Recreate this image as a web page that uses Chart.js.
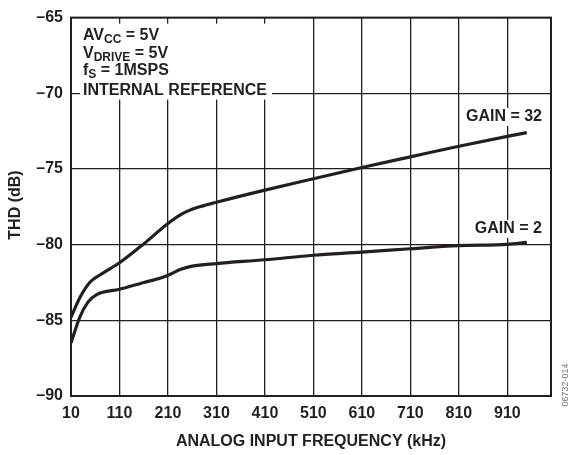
<!DOCTYPE html>
<html>
<head>
<meta charset="utf-8">
<script src="https://cdn.jsdelivr.net/npm/chart.js@4/dist/chart.umd.min.js"></script>
<style>
  html, body { margin: 0; padding: 0; background: #fff; }
  #thdChart { display: block; }
</style>
</head>
<body>
<canvas id="thdChart" width="572" height="455"></canvas>
<script>
// frequency (kHz) and THD (dB)
var freqGain32 = [10, 30, 50, 75, 110, 160, 210, 240, 270, 310, 410, 510, 610, 710, 810, 910, 950];
var thdGain32 = [-84.8, -83.4, -82.45, -81.9, -81.2, -79.95, -78.6, -77.95, -77.55, -77.2, -76.4, -75.65, -74.9, -74.2, -73.5, -72.85, -72.6];
var freqGain2 = [10, 28, 45, 63, 110, 160, 195, 215, 235, 260, 310, 410, 510, 610, 710, 810, 910, 950];
var thdGain2 = [-86.5, -84.8, -83.8, -83.3, -82.95, -82.5, -82.2, -81.95, -81.65, -81.42, -81.25, -81.0, -80.7, -80.5, -80.27, -80.07, -79.98, -79.85];
var xTicks = [10, 110, 210, 310, 410, 510, 610, 710, 810, 910];
var yTicks = [-90, -85, -80, -75, -70, -65];

var FONT = "'Liberation Sans', Arial, sans-serif";
var INK = "#231f20";

function toPoints(xs, ys) {
    var pts = [];
    for (var i = 0; i < xs.length; i++) {
        pts.push({ x: xs[i], y: ys[i] });
    }
    return pts;
}

// draws text with a subscript part, returns new x
function subText(ctx, x, y, main, sub) {
    ctx.font = "bold 16px " + FONT;
    ctx.fillText(main, x, y);
    x += ctx.measureText(main).width;
    if (sub) {
        ctx.font = "bold 12px " + FONT;
        ctx.fillText(sub, x, y + 4);
        x += ctx.measureText(sub).width;
    }
    return x;
}

var annotations = {
    id: "annotations",
    afterDatasetsDraw: function (chart) {
        var ctx = chart.ctx;
        var a = chart.chartArea;
        ctx.save();

        // frame
        ctx.strokeStyle = INK;
        ctx.lineWidth = 2;
        ctx.strokeRect(a.left, a.top, a.right - a.left, a.bottom - a.top);

        ctx.fillStyle = INK;
        ctx.textBaseline = "middle";
        ctx.textAlign = "left";

        // conditions box
        ctx.fillStyle = "#fff";
        ctx.fillRect(a.left + 9, a.top + 6, 192, 76);
        ctx.fillStyle = INK;
        var x0 = a.left + 12;
        var x = subText(ctx, x0, a.top + 18, "AV", "CC");
        subText(ctx, x, a.top + 18, " = 5V");
        x = subText(ctx, x0, a.top + 36, "V", "DRIVE");
        subText(ctx, x, a.top + 36, " = 5V");
        x = subText(ctx, x0, a.top + 53, "f", "S");
        subText(ctx, x, a.top + 53, " = 1MSPS");
        subText(ctx, x0, a.top + 73, "INTERNAL REFERENCE");

        // curve labels
        ctx.font = "bold 16px " + FONT;
        ctx.textAlign = "right";
        var labels = [["GAIN = 32", 117], ["GAIN = 2", 229]];
        for (var i = 0; i < labels.length; i++) {
            var w = ctx.measureText(labels[i][0]).width;
            ctx.fillStyle = "#fff";
            ctx.fillRect(542 - w - 3, labels[i][1] - 9, w + 6, 18);
            ctx.fillStyle = INK;
            ctx.fillText(labels[i][0], 542, labels[i][1]);
        }

        // y axis title
        ctx.save();
        ctx.translate(16, 205);
        ctx.rotate(-Math.PI / 2);
        ctx.textAlign = "center";
        ctx.font = "bold 16px " + FONT;
        ctx.fillText("THD (dB)", 0, 0);
        ctx.restore();

        // figure number
        ctx.translate(566, 385);
        ctx.rotate(-Math.PI / 2);
        ctx.font = "9px " + FONT;
        ctx.fillStyle = "#777";
        ctx.textAlign = "center";
        ctx.fillText("06732-014", 0, 0);
        ctx.restore();
    }
};

var ctx = document.getElementById("thdChart").getContext("2d");
var chart = new Chart(ctx, {
    type: "line",
    data: {
        datasets: [{
            label: "GAIN = 32",
            data: toPoints(freqGain32, thdGain32),
            borderColor: INK,
            borderWidth: 3.2,
            pointRadius: 0,
            cubicInterpolationMode: "monotone",
            fill: false
        }, {
            label: "GAIN = 2",
            data: toPoints(freqGain2, thdGain2),
            borderColor: INK,
            borderWidth: 3.2,
            pointRadius: 0,
            cubicInterpolationMode: "monotone",
            fill: false
        }]
    },
    options: {
        responsive: false,
        animation: false,
        events: [],
        layout: { padding: { left: 0, right: 21, top: 13, bottom: 0 } },
        plugins: {
            legend: { display: false },
            tooltip: { enabled: false }
        },
        scales: {
            x: {
                type: "linear",
                min: 10,
                max: 1000,
                afterBuildTicks: function (scale) {
                    scale.ticks = xTicks.map(function (v) { return { value: v }; });
                },
                afterFit: function (scale) { scale.height = 59; },
                grid: { color: INK, lineWidth: 1.3, drawTicks: false },
                border: { display: false },
                ticks: {
                    padding: 8,
                    color: INK,
                    font: { family: FONT, size: 16, weight: "bold" },
                    maxRotation: 0,
                    autoSkip: false
                },
                title: {
                    display: true,
                    text: "ANALOG INPUT FREQUENCY (kHz)",
                    color: INK,
                    font: { family: FONT, size: 16, weight: "bold" },
                    padding: { top: 0, bottom: 4 }
                }
            },
            y: {
                type: "linear",
                min: -90,
                max: -65,
                afterBuildTicks: function (scale) {
                    scale.ticks = yTicks.map(function (v) { return { value: v }; });
                },
                afterFit: function (scale) { scale.width = 71; },
                grid: { color: INK, lineWidth: 1.3, drawTicks: false },
                border: { display: false },
                ticks: {
                    padding: 8,
                    color: INK,
                    font: { family: FONT, size: 16, weight: "bold" },
                    callback: function (v) { return String(v).replace("-", "\u2013"); }
                },
                title: { display: false }
            }
        }
    },
    plugins: [annotations]
});
</script>
</body>
</html>
